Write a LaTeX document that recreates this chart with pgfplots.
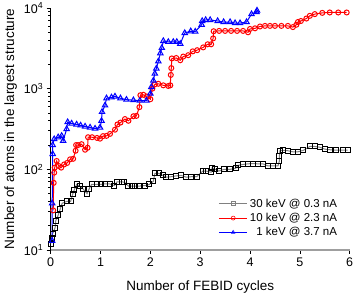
\documentclass[border=0pt]{standalone}
\usepackage{fontspec}
\setmainfont{Liberation Sans}
\usepackage{pgfplots}
\pgfplotsset{compat=1.18}
\begin{document}
\begin{tikzpicture}
\begin{axis}[
 name=ax,
 scale only axis, width=299pt, height=242pt,
 ymode=log, xmin=0, xmax=6, ymin=10, ymax=10000,
 axis x line*=bottom, axis y line*=left,
 x axis line style={gray!75, line width=1.3pt, -},
 y axis line style={black, line width=0.8pt, -},
 tick align=outside,
 major tick length=4pt, minor tick length=2.5pt,
 tick style={black, line width=0.7pt},
 xtick={0,1,2,3,4,5,6},
 ytick={10,100,1000,10000},
 yticklabels={10\textsuperscript{1},10\textsuperscript{2},10\textsuperscript{3},10\textsuperscript{4}},
 /pgf/number format/assume math mode=true,
 tick label style={font=\fontsize{12.5}{14}\selectfont},
 every axis x label/.style={at={(axis description cs:0.5,0)}, yshift=-37pt, anchor=center},
 every axis y label/.style={at={(axis description cs:0,0.5)}, xshift=-40pt, rotate=90, anchor=center},
 label style={font=\fontsize{13.5}{16}\selectfont},
 xlabel={Number of FEBID cycles},
 ylabel={Number of atoms in the largest structure},
 legend style={draw=none, fill=none, at={(0.975,0.035)}, anchor=south east,
   font=\fontsize{11.5}{14}\selectfont, row sep=0.5pt},
 legend cell align=right,
 legend image code/.code={\draw[mark repeat=2,mark phase=2, mark size=2pt, mark options={line width=0.6pt}] plot coordinates {(0cm,0cm) (0.5cm,0cm) (1cm,0cm)};},
]
\addplot[gray, line width=1pt, mark=square, mark size=2.5pt, mark options={draw=black, fill=white, line width=1pt}] coordinates {
(0,12) (0.02,14) (0.04,16) (0.09,19) (0.1,23) (0.15,27) (0.19,32) (0.23,38) (0.32,40) (0.4,40)
(0.44,49) (0.47,55) (0.52,65) (0.58,62) (0.65,57) (0.73,50) (0.77,57) (0.82,65) (0.92,65) (1.0,65)
(1.08,66) (1.18,66) (1.28,63) (1.33,70) (1.43,70) (1.48,69) (1.56,62) (1.63,62) (1.70,62) (1.78,62)
(1.9,63) (1.98,65) (2.06,71) (2.09,89) (2.17,89) (2.25,84) (2.32,80) (2.42,81) (2.52,83) (2.62,84)
(2.72,80) (2.82,81) (2.93,81) (3.05,95) (3.12,95) (3.22,92) (3.24,105) (3.30,100) (3.37,95) (3.48,100)
(3.6,100) (3.71,103) (3.76,112) (3.86,115) (3.96,117) (4.06,118) (4.16,117) (4.26,117) (4.36,110) (4.46,110)
(4.56,110) (4.59,127) (4.59,147) (4.60,170) (4.66,172) (4.76,170) (4.86,165) (4.96,165) (5.07,172) (5.2,192)
(5.3,192) (5.4,188) (5.5,178) (5.6,175) (5.73,173) (5.86,173) (5.96,173)
};
\addlegendentry{30 keV @ 0.3 nA}
\addplot[red, line width=1pt, mark=o, mark size=2.5pt, mark options={draw=red, fill=white, line width=1pt}] coordinates {
(0.05,31) (0.06,68) (0.07,91) (0.08,105) (0.12,127) (0.16,110) (0.21,105) (0.27,115) (0.33,120) (0.39,133)
(0.45,135) (0.5,170) (0.51,200) (0.55,200) (0.62,205) (0.69,175) (0.74,185) (0.75,250) (0.83,250) (0.93,245)
(0.99,240) (1.05,258) (1.12,260) (1.19,275) (1.29,310) (1.34,360) (1.40,380) (1.49,420) (1.56,400) (1.66,455)
(1.72,460) (1.78,590) (1.80,830) (1.86,840) (1.93,800) (2.0,740) (2.04,1000) (2.09,1130) (2.16,1150) (2.26,1100)
(2.36,1080) (2.40,1100) (2.41,1480) (2.42,1800) (2.43,2370) (2.52,2400) (2.6,2250) (2.66,2500) (2.76,2600) (2.85,2900)
(2.94,3000) (3.06,3250) (3.15,3550) (3.22,3550) (3.26,4200) (3.27,5150) (3.38,5200) (3.5,5200) (3.62,5200) (3.74,5200)
(3.86,5200) (3.96,5000) (4.0,5500) (4.1,5600) (4.2,5900) (4.3,6000) (4.4,6000) (4.5,6000) (4.63,6000) (4.76,6000)
(4.86,5800) (4.93,6200) (4.96,6700) (5.02,6900) (5.13,7400) (5.2,8000) (5.3,8400) (5.45,8700) (5.6,8800) (5.77,8800)
(5.94,8800)
};
\addlegendentry{10 keV @ 2.3 nA}
\addplot[blue, line width=1pt, mark=triangle, mark size=3.1pt, mark options={draw=blue, fill=white, line width=1pt}] coordinates {
(0.03,13) (0.03,38) (0.04,155) (0.04,200) (0.07,237) (0.15,250) (0.22,260) (0.25,226) (0.32,316) (0.34,385)
(0.42,370) (0.52,360) (0.6,350) (0.69,340) (0.79,330) (0.89,320) (0.99,330) (1.02,400) (1.03,515) (1.09,620)
(1.12,760) (1.22,780) (1.29,800) (1.4,760) (1.52,730) (1.66,720) (1.79,710) (1.92,710) (2.0,870) (2.02,1050)
(2.06,1260) (2.09,1540) (2.12,1780) (2.16,2180) (2.2,2750) (2.23,3200) (2.26,3900) (2.36,3800) (2.46,3800) (2.53,3800)
(2.6,3600) (2.69,4900) (2.81,5150) (2.9,5100) (3.03,6200) (3.04,6900) (3.11,7100) (3.2,7100) (3.35,6900) (3.47,6700)
(3.6,6700) (3.7,6500) (3.8,6500) (3.93,6700) (4.03,8400) (4.13,8900) (4.14,9300)
};
\addlegendentry{1 keV @ 3.7 nA}
\end{axis}
\pgfresetboundingbox
\path[use as bounding box] ([shift={(-50.7pt,-47pt)}]ax.south west) rectangle ++(357pt,297pt);
\end{tikzpicture}
\end{document}
